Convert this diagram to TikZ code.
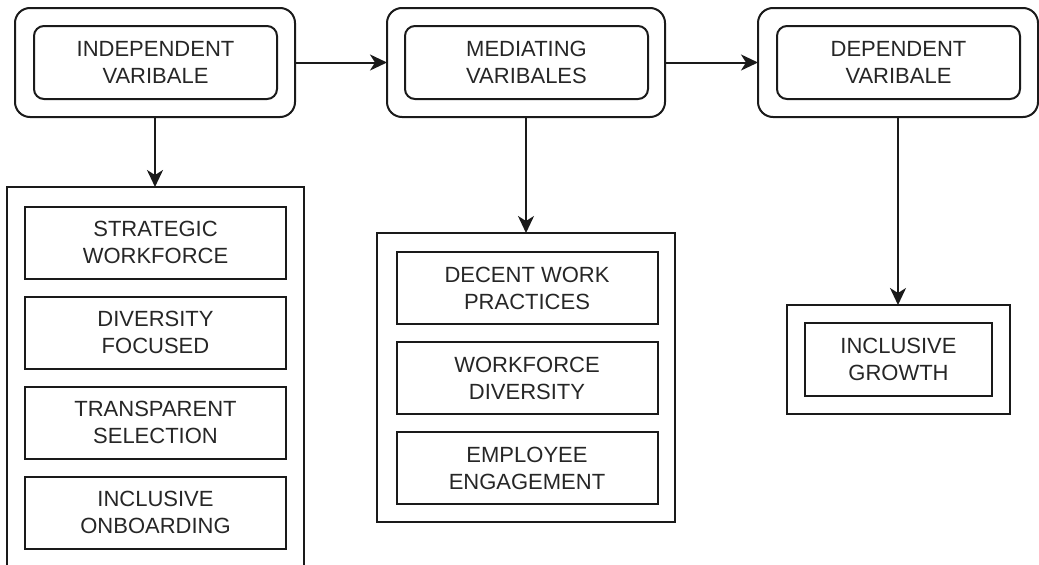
\documentclass[tikz,border=0pt]{standalone}
\usepackage{fontspec}
\setmainfont{Liberation Sans}
\usetikzlibrary{arrows.meta}
\definecolor{ink}{HTML}{1A1A1A}
\definecolor{txt}{HTML}{262626}
\begin{document}
\begin{tikzpicture}[x=1pt,y=-1pt,
  line width=2pt, draw=ink,
  every node/.style={inner sep=0pt, outer sep=0pt, font=\fontsize{22}{27}\selectfont, text=txt, align=center},
  outerround/.style={draw=ink, rounded corners=15pt, minimum width=280pt, minimum height=109pt},
  innerround/.style={draw=ink, rounded corners=10pt, minimum width=243pt, minimum height=73pt},
  groupbox/.style={draw=ink, minimum width=#1},
  itembox/.style={draw=ink, minimum width=#1, minimum height=72pt},
  link/.style={draw=ink, line width=2pt, -{Stealth[length=17pt,width=16pt,inset=5pt]}}
]
\useasboundingbox (0,0) rectangle (1039,565);
\clip (0,0) rectangle (1039,565);

% top row: the three variable groups
\node[outerround] (ivo) at (155,62.5) {};
\node[innerround] (ivi) at (155.5,62.5) {INDEPENDENT\\VARIBALE};
\node[outerround, minimum width=278pt] (mvo) at (526,62.5) {};
\node[innerround] (mvi) at (526.5,62.5) {MEDIATING\\VARIBALES};
\node[outerround] (dvo) at (898,62.5) {};
\node[innerround] (dvi) at (898.5,62.5) {DEPENDENT\\VARIBALE};

% independent variable items
\node[groupbox=297pt, minimum height=400pt] (ivg) at (155,387) {};
\node[itembox=261pt] (s1) at (155.5,242.5) {STRATEGIC\\WORKFORCE};
\node[itembox=261pt] (s2) at (155.5,332.5) {DIVERSITY\\FOCUSED};
\node[itembox=261pt] (s3) at (155.5,422.5) {TRANSPARENT\\SELECTION};
\node[itembox=261pt] (s4) at (155.5,512.5) {INCLUSIVE\\ONBOARDING};

% mediating variable items
\node[groupbox=298pt, minimum height=289pt] (mvg) at (526,377.5) {};
\node[itembox=261pt] (m1) at (527,288) {DECENT WORK\\PRACTICES};
\node[itembox=261pt] (m2) at (527,378) {WORKFORCE\\DIVERSITY};
\node[itembox=261pt] (m3) at (527,468) {EMPLOYEE\\ENGAGEMENT};

% dependent variable item
\node[groupbox=223pt, minimum height=109pt] (dvg) at (898,359.5) {};
\node[itembox=187pt, minimum height=73pt] (d1) at (898.5,359.5) {INCLUSIVE\\GROWTH};

% connectors
\draw[link] (ivo.east) -- (mvo.west);
\draw[link] (mvo.east) -- (dvo.west);
\draw[link] (ivo.south) -- (ivg.north);
\draw[link] (mvo.south) -- (mvg.north);
\draw[link] (dvo.south) -- (dvg.north);
\end{tikzpicture}
\end{document}
